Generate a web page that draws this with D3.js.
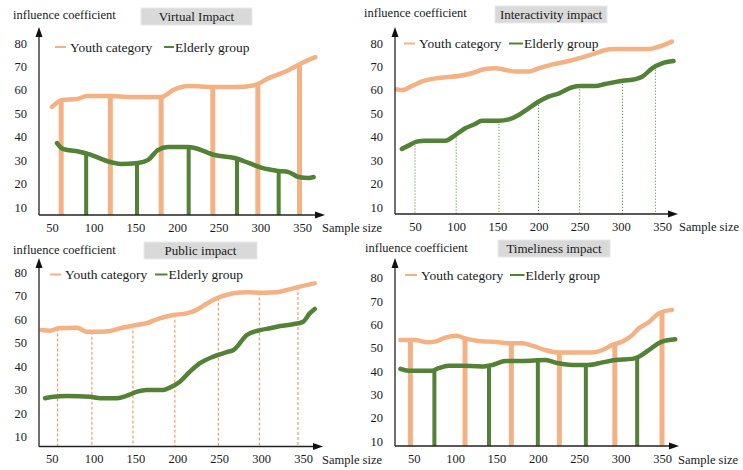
<!DOCTYPE html>
<html>
<head>
<meta charset="utf-8">
<script src="https://cdn.jsdelivr.net/npm/d3@7"></script>
<style>
  body { margin: 0; background: #fff; }
  svg { display: block; }
  text { font-family: "Liberation Serif", "Times New Roman", serif; fill: #1a1a1a; }
</style>
</head>
<body>
<svg id="chart" width="743" height="470"></svg>
<script>
// ---- data -------------------------------------------------------------
const sampleTicks = [50, 100, 150, 200, 250, 300, 350];
const valueTicks = [10, 20, 30, 40, 50, 60, 70, 80];
const seriesNames = ["Youth category", "Elderly group"];
const panelTitles = ["Virtual Impact", "Interactivity impact", "Public impact", "Timeliness impact"];
const axisTitleY = "influence coefficient";
const axisTitleX = "Sample size";

// each point: [sample size, influence coefficient]
const virtualYouth = [[50,52.7],[62,55.7],[80,56.1],[92,57.4],[120,57.4],[141,57],[181,57],[196,60],[213,61.6],[245,61.2],[269,61.2],[293,62],[310,65],[329,67.6],[350,71.5],[366,74]];
const virtualElderly = [[56,37.3],[63,34.8],[84,33.5],[94,32.6],[120,29.2],[132,28.4],[153,28.8],[165,30],[177,34.3],[189,35.6],[213,35.6],[221,35.2],[245,32.2],[269,30.9],[286,28.8],[302,26.7],[322,25.4],[334,24.9],[346,22.8],[358,22.4],[364,22.8]];
const virtualYouthDrops = [61, 120, 181, 243, 297, 347];
const virtualElderlyDrops = [91, 152, 214, 272, 322];

const interactYouth = [[28,60.2],[34,59.9],[46,61.6],[58,63.5],[75,64.9],[87,65.4],[103,65.9],[119,67.1],[135,68.9],[148,69.2],[160,68.5],[172,67.8],[188,67.8],[200,69.2],[217,70.9],[237,72.3],[253,73.9],[269,75.6],[281,77],[293,77.4],[314,77.4],[334,77.4],[346,78.4],[362,80.6]];
const interactElderly = [[34,34.8],[42,36.2],[52,37.9],[62,38.3],[87,38.3],[99,40.7],[111,43.6],[123,45.4],[131,46.8],[152,46.8],[164,47.4],[176,49.3],[188,52.1],[200,54.9],[212,57.1],[225,58.5],[241,61.1],[251,61.6],[269,61.6],[281,62.5],[302,63.9],[318,64.6],[326,65.6],[338,69.2],[350,71.3],[364,72.3]];
const interactElderlyDrops = [50, 100, 152, 200, 250, 302, 342];

const publicYouth = [[38,55.4],[48,55.1],[58,56.2],[80,56.4],[92,54.7],[108,54.7],[120,55],[132,56.2],[147,57.3],[163,58.3],[179,60.4],[195,61.8],[211,62.5],[223,64],[239,67.5],[252,69.6],[267,71.1],[283,71.5],[303,71.3],[319,71.5],[331,72.5],[346,73.9],[364,75.3]];
const publicElderly = [[42,26.4],[52,27],[68,27.3],[96,27],[108,26.4],[128,26.4],[140,27.5],[152,29.2],[163,29.9],[183,29.9],[191,30.9],[203,33.4],[215,37.7],[227,41.3],[243,44.1],[259,46],[267,46.9],[283,53.3],[299,55.4],[311,56.2],[323,57.1],[338,57.9],[350,58.9],[358,62.5],[364,64.4]];
const publicYouthDrops = [57, 98, 147, 197, 249, 298, 344];

const timelyYouth = [[34,53.3],[52,53.3],[66,52.3],[76,52.6],[88,54.3],[102,55.1],[112,54],[128,52.9],[141,52.6],[153,52.3],[165,51.9],[181,51.9],[193,50.9],[209,49],[225,47.9],[241,47.9],[265,47.9],[278,49],[290,51.2],[302,52.6],[314,55.4],[322,58.3],[334,60.9],[346,64.7],[362,66.2]];
const timelyElderly = [[34,40.9],[44,40.1],[72,40.1],[80,41.2],[92,42.3],[108,42.3],[132,41.9],[145,42.6],[161,44.3],[181,44.3],[209,44.7],[225,43.3],[241,42.6],[261,42.6],[278,43.7],[294,44.7],[314,45.2],[322,46.1],[334,49],[350,52.6],[366,53.6]];
const timelyYouthDrops = [46, 112, 168, 226, 293, 350];
const timelyElderlyDrops = [75, 141, 200, 258, 320];

// ---- styling ------------------------------------------------------------
const colors = { youth: "#f4b183", elderly: "#538135" };

// pixel layout for the four panels
const layouts = [
  { ax: 39,  ay: 215,   top: 27,  right: 325, xr: [52, 302],    yr: [207, 43],    box: [141, 8, 111, 17],  titleAt: [13, 15],    legY: 47,    leg: [55, 70, 164, 175],   sx: 322, sy: 228 },
  { ax: 395, ay: 214,   top: 27,  right: 678, xr: [415, 662],   yr: [207, 43],    box: [495, 6, 112, 17],  titleAt: [364, 13],   legY: 43.5,  leg: [404, 419, 509, 524], sx: 679, sy: 227 },
  { ax: 39,  ay: 446.5, top: 258, right: 323, xr: [51.7, 303],  yr: [436.7, 272.3], box: [144, 242, 113, 17], titleAt: [13, 250], legY: 274.5, leg: [50, 65, 155, 168.5], sx: 322, sy: 460 },
  { ax: 395, ay: 446,   top: 258, right: 679, xr: [413.7, 662], yr: [441, 277.7], box: [498, 240, 112, 17], titleAt: [365, 248],  legY: 275,   leg: [405, 421, 510, 525.5], sx: 678, sy: 460 }
];

const panels = [
  { youth: virtualYouth,  elderly: virtualElderly,  drops: [
      { series: "youth", at: virtualYouthDrops, width: 5, dash: null },
      { series: "elderly", at: virtualElderlyDrops, width: 4, dash: null } ] },
  { youth: interactYouth, elderly: interactElderly, drops: [
      { series: "elderly", at: interactElderlyDrops, width: 1, dash: "1.2,1.8", color: "#5a9a3a" } ] },
  { youth: publicYouth,   elderly: publicElderly,   drops: [
      { series: "youth", at: publicYouthDrops, width: 1.2, dash: "3,2", color: "#f0a070" } ] },
  { youth: timelyYouth,   elderly: timelyElderly,   drops: [
      { series: "youth", at: timelyYouthDrops, width: 5, dash: null },
      { series: "elderly", at: timelyElderlyDrops, width: 4, dash: null } ] }
];

// value on a polyline at a given sample size
function valueAt(series, s) {
  for (let i = 0; i < series.length - 1; i++) {
    const [x0, y0] = series[i], [x1, y1] = series[i + 1];
    if (s >= x0 && s <= x1) return y0 + (y1 - y0) * (s - x0) / (x1 - x0);
  }
  return s < series[0][0] ? series[0][1] : series[series.length - 1][1];
}

const svg = d3.select("#chart");

panels.forEach((p, i) => {
  const L = layouts[i];
  const x = d3.scaleLinear().domain([50, 350]).range(L.xr);
  const y = d3.scaleLinear().domain([10, 80]).range(L.yr);
  const g = svg.append("g");

  const line = d3.line()
    .x(d => x(d[0]))
    .y(d => y(d[1]))
    .curve(d3.curveMonotoneX);

  // vertical drop lines from the curves down to the axis
  p.drops.forEach(dr => {
    g.append("g").selectAll("line")
      .data(dr.at)
      .join("line")
      .attr("x1", d => x(d)).attr("x2", d => x(d))
      .attr("y1", d => y(valueAt(p[dr.series], d)))
      .attr("y2", L.ay)
      .attr("stroke", dr.color || colors[dr.series])
      .attr("stroke-width", dr.width)
      .attr("stroke-dasharray", dr.dash);
  });

  // curves
  [["youth", p.youth], ["elderly", p.elderly]].forEach(([key, data]) => {
    g.append("path")
      .datum(data)
      .attr("d", line)
      .attr("fill", "none")
      .attr("stroke", colors[key])
      .attr("stroke-width", 4.5)
      .attr("stroke-linecap", "round")
      .attr("stroke-linejoin", "round");
  });

  // axes with arrows
  g.append("line").attr("x1", L.ax).attr("x2", L.ax).attr("y1", L.ay).attr("y2", L.top + 4)
    .attr("stroke", "#222").attr("stroke-width", 1.3);
  g.append("line").attr("x1", L.ax).attr("x2", L.right - 4).attr("y1", L.ay).attr("y2", L.ay)
    .attr("stroke", "#222").attr("stroke-width", 1.3);
  g.append("path")
    .attr("d", `M${L.ax - 3.5},${L.top + 10}L${L.ax},${L.top}L${L.ax + 3.5},${L.top + 10}Z`)
    .attr("fill", "#111");
  g.append("path")
    .attr("d", `M${L.right - 10},${L.ay - 3.5}L${L.right},${L.ay}L${L.right - 10},${L.ay + 3.5}Z`)
    .attr("fill", "#111");

  const yAxis = g.append("g")
    .attr("transform", `translate(${L.ax},0)`)
    .call(d3.axisLeft(y).tickValues(valueTicks).tickSize(0).tickPadding(12));
  yAxis.select(".domain").remove();
  yAxis.selectAll("text").attr("font-size", 12.5).attr("font-family", "Liberation Serif, serif").attr("fill", "#1a1a1a");

  const xAxis = g.append("g")
    .attr("transform", `translate(0,${L.ay})`)
    .call(d3.axisBottom(x).tickValues(sampleTicks).tickSize(0).tickPadding(8));
  xAxis.select(".domain").remove();
  xAxis.selectAll("text").attr("font-size", 12.5).attr("font-family", "Liberation Serif, serif").attr("fill", "#1a1a1a");

  // axis titles
  g.append("text").attr("x", L.titleAt[0]).attr("y", L.titleAt[1]).attr("dy", "0.35em")
    .attr("font-size", 12.5).text(axisTitleY);
  g.append("text").attr("x", L.sx).attr("y", L.sy).attr("dy", "0.35em")
    .attr("font-size", 12.5).text(axisTitleX);

  // panel title box
  g.append("rect").attr("x", L.box[0]).attr("y", L.box[1]).attr("width", L.box[2]).attr("height", L.box[3])
    .attr("fill", "#d9d9d9").attr("stroke", "#e6e9ee").attr("stroke-width", 1);
  g.append("text").attr("x", L.box[0] + L.box[2] / 2).attr("y", L.box[1] + L.box[3] / 2).attr("dy", "0.35em")
    .attr("text-anchor", "middle").attr("font-size", 13).text(panelTitles[i]);

  // legend
  const leg = [
    { key: "youth", x0: L.leg[0], x1: L.leg[1] - 4, tx: L.leg[1], label: seriesNames[0] },
    { key: "elderly", x0: L.leg[2], x1: L.leg[3] - 1, tx: L.leg[3], label: seriesNames[1] }
  ];
  leg.forEach(l => {
    g.append("line").attr("x1", l.x0).attr("x2", l.x1).attr("y1", L.legY).attr("y2", L.legY)
      .attr("stroke", colors[l.key]).attr("stroke-width", 2);
    g.append("text").attr("x", l.tx).attr("y", L.legY).attr("dy", "0.35em")
      .attr("font-size", 13.5).text(l.label);
  });
});
</script>
</body>
</html>
